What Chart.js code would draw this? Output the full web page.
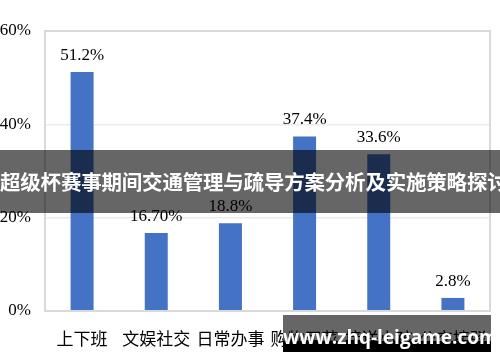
<!DOCTYPE html>
<html>
<head>
<meta charset="utf-8">
<script src="https://cdn.jsdelivr.net/npm/chart.js@4/dist/chart.umd.min.js"></script>
<style>
  html, body { margin: 0; padding: 0; background: #fff; }
  #wrap { position: relative; width: 500px; height: 362px; overflow: hidden; }
  #banner {
    position: absolute; left: 0; top: 150px; width: 500px; height: 63px;
    background: rgba(0,0,0,0.6); color: #fff;
    font: bold 20.5px "Noto Sans CJK SC", sans-serif;
    line-height: 63px; text-align: center; white-space: nowrap; letter-spacing: -0.2px;
  }
  #mark {
    position: absolute; left: 283px; top: 315px; width: 208px; height: 37px;
    background: linear-gradient(rgba(0,0,0,0.6) 0, rgba(0,0,0,0.6) 26px, #000 26px, #000 37px);
    color: #fff; font: bold 19px "Open Sans", "DejaVu Sans", sans-serif;
    text-align: center; line-height: 44px; white-space: nowrap;
  }
</style>
</head>
<body>
<div id="wrap">
  <canvas id="chart" width="500" height="362"></canvas>
  <div id="banner">超级杯赛事期间交通管理与疏导方案分析及实施策略探讨</div>
  <div id="mark">www.zhq-leigame.com</div>
</div>
<script>
const categories = ['上下班', '文娱社交', '日常办事', '购物买菜', '接送小孩', '公交接驳'];
const shares = [51.2, 16.7, 18.8, 37.4, 33.6, 2.8];
const shareLabels = ['51.2%', '16.70%', '18.8%', '37.4%', '33.6%', '2.8%'];
const yTicks = [0, 20, 40, 60];

// plot frame
const frame = {
    id: 'frame',
    afterDraw(chart) {
        const { ctx, chartArea: a } = chart;
        ctx.save();
        ctx.strokeStyle = '#d9d9d9';
        ctx.lineWidth = 2;
        ctx.strokeRect(a.left, a.top, a.right - a.left, a.bottom - a.top);
        ctx.restore();
    }
};

// value labels above bars
const valueLabels = {
    id: 'valueLabels',
    afterDatasetsDraw(chart) {
        const { ctx } = chart;
        const meta = chart.getDatasetMeta(0);
        ctx.save();
        ctx.font = '17px "Liberation Serif", serif';
        ctx.fillStyle = '#000';
        ctx.textAlign = 'center';
        ctx.textBaseline = 'bottom';
        meta.data.forEach((bar, i) => {
            ctx.fillText(shareLabels[i], bar.x, bar.y - 8);
        });
        ctx.restore();
    }
};

new Chart(document.getElementById('chart'), {
    type: 'bar',
    data: {
        labels: categories,
        datasets: [{
            data: shares,
            backgroundColor: '#4472C4',
            categoryPercentage: 1,
            barPercentage: 0.31
        }]
    },
    options: {
        responsive: false,
        animation: false,
        layout: { padding: { top: 31, right: 10, left: 0, bottom: 0 } },
        plugins: { legend: { display: false }, tooltip: { enabled: false } },
        scales: {
            x: {
                grid: { display: false },
                border: { display: false },
                ticks: {
                    color: '#000',
                    font: { family: '"Noto Sans CJK SC", sans-serif', size: 17 },
                    padding: 9,
                    maxRotation: 0,
                    autoSkip: false
                },
                afterFit(scale) { scale.height = 51; }
            },
            y: {
                min: 0,
                max: 60,
                afterBuildTicks(scale) { scale.ticks = yTicks.map(v => ({ value: v })); },
                grid: { color: '#ececec', lineWidth: 1.5, drawTicks: false },
                border: { display: false },
                ticks: {
                    color: '#000',
                    font: { family: '"Liberation Serif", serif', size: 17 },
                    padding: 14,
                    callback: v => v + '%'
                },
                afterFit(scale) { scale.width = 45; }
            }
        }
    },
    plugins: [frame, valueLabels]
});
</script>
</body>
</html>
